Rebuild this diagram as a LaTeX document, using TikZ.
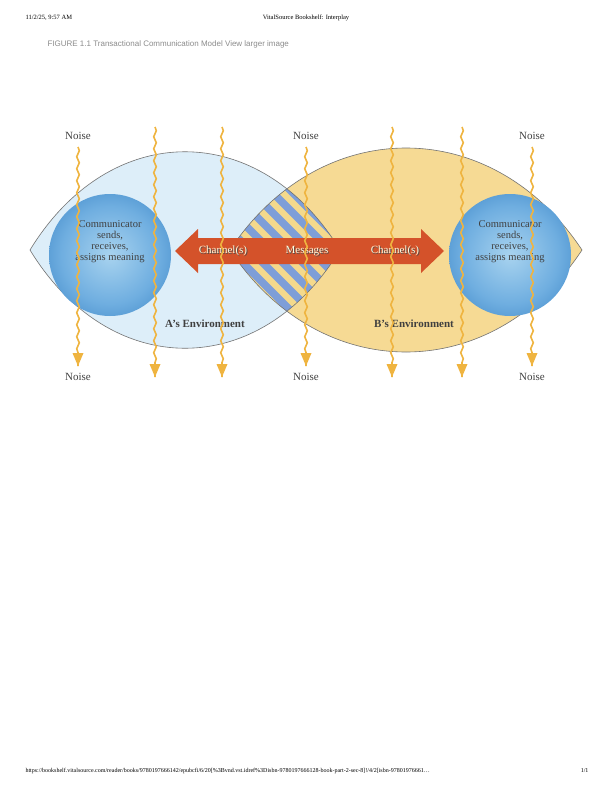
\documentclass[tikz,border=0pt]{standalone}
\usepackage{fontspec}
\setmainfont{Liberation Serif}
\newfontfamily\capfont{Liberation Sans}
\usetikzlibrary{decorations.pathmorphing,arrows.meta,shadings,calc}
\definecolor{lensA}{HTML}{DDEEF9}
\definecolor{lensB}{HTML}{F6DA94}
\definecolor{stripeB}{HTML}{7E9ED8}
\definecolor{stripeY}{HTML}{F4D98C}
\definecolor{noisecol}{HTML}{EFB440}
\definecolor{arrowred}{HTML}{D4522A}
\definecolor{ballc}{HTML}{A8D3EF}
\definecolor{ballm}{HTML}{6FAEE0}
\definecolor{balld}{HTML}{2F7BC0}
\definecolor{balle}{HTML}{6FA8DA}
\pgfdeclareradialshading{ballA}{\pgfpoint{0bp}{0bp}}{%
  color(0bp)=(ballc);
  color(20bp)=(ballm);
  color(39bp)=(balld);
  color(45bp)=(balle);
  color(50bp)=(lensA)}
\pgfdeclareradialshading{ballB}{\pgfpoint{0bp}{0bp}}{%
  color(0bp)=(ballc);
  color(20bp)=(ballm);
  color(39bp)=(balld);
  color(45bp)=(balle);
  color(50bp)=(lensB)}
\tikzset{
  noisearrow/.style={draw=noisecol,line width=1.6pt,decorate,decoration={snake,segment length=12pt,amplitude=1.3pt,post length=10pt}},
  noisetip/.style={fill=noisecol,draw=none},
  noiselbl/.style={font=\fontsize{11}{12}\selectfont,text=black!75},
  chan/.style={font=\fontsize{11}{12}\selectfont,text=white!88!yellow},
  chanshadow/.style={font=\fontsize{11}{12}\selectfont,text=black!70},
  env/.style={font=\fontsize{11}{12}\selectfont\bfseries,text=black!75},
  comm/.style={font=\fontsize{10.5}{11}\selectfont,text=black!75,align=center},
  stripe/.style={draw=stripeB,line width=7.6pt}
}
\begin{document}
\begin{tikzpicture}[x=1pt,y=-1pt]
\useasboundingbox (0,0) rectangle (612,792);
\fill[white] (0,0) rectangle (612,792);
% header
\node[font=\fontsize{6.5}{7}\selectfont,anchor=west] (hd1) at (22,18) {11/2/25, 9:57 AM};
\node[font=\fontsize{6.5}{7}\selectfont] (hd2) at (306,18) {VitalSource Bookshelf: Interplay};
\node[font=\capfont\fontsize{8}{9}\selectfont,text=black!45,anchor=west] (cap) at (44,44) {FIGURE 1.1 Transactional Communication Model View larger image};
\node[font=\fontsize{6}{7}\selectfont,anchor=west] (ft1) at (22,771) {https://bookshelf.vitalsource.com/reader/books/9780197666142/epubcfi/6/20[\%3Bvnd.vst.idref\%3Disbn-9780197666128-book-part-2-sec-8]!/4/2[isbn-97801976661\dots};
\node[font=\fontsize{6}{7}\selectfont,anchor=east] (ft2) at (592,771) {1/1};
% lenses
\def\lensA{(30,250) .. controls (110,119) and (260,119) .. (340,250) .. controls (260,381) and (110,381) .. (30,250) -- cycle}
\def\lensB{(230,250) .. controls (320,114) and (492,114) .. (582,250) .. controls (492,386) and (320,386) .. (230,250) -- cycle}
\fill[lensA] \lensA;
\fill[lensB] \lensB;
\begin{scope}
\clip \lensA;
\clip \lensB;
\fill[stripeY] (200,130) rectangle (360,370);
\foreach \xs in {-100,-80,...,400}{
  \draw[stripe] (\xs,100) -- (\xs+300,400);
}
\end{scope}
\draw[black!55,line width=0.6pt] \lensA;
\draw[black!55,line width=0.6pt] \lensB;
% balls
\shade[shading=ballA] (110,255) circle (61);
\shade[shading=ballB] (510,255) circle (61);
\node[comm] (ca) at (110,242) {Communicator\\sends,\\receives,\\assigns meaning};
\node[comm] (cb) at (510,242) {Communicator\\sends,\\receives,\\assigns meaning};
% channel arrow
\fill[arrowred] (175,251) -- (198,229) -- (198,238) -- (421,238) -- (421,229) -- (444,251) -- (421,273) -- (421,264) -- (198,264) -- (198,273) -- cycle;
\foreach \n/\x/\t in {ch1/223/Channel(s),msg/307/Messages,ch2/395/Channel(s)}{
  \node[chanshadow] at (\x+0.8,251.8) {\t};
  \node[chan] (\n) at (\x,251) {\t};
}
\node[env] (ea) at (205,324) {A's Environment};
\node[env] (eb) at (414,324) {B's Environment};
% noise
\foreach \x/\lab in {78/1,155/0,222/0,306/1,392/0,462/0,532/1}{
  \ifnum\lab=1
    \node[noiselbl] (nt\x) at (\x,136) {Noise};
    \node[noiselbl] (nb\x) at (\x,377) {Noise};
    \coordinate (s\x) at (\x,147);
    \coordinate (e\x) at (\x,366);
  \else
    \coordinate (s\x) at (\x,127);
    \coordinate (e\x) at (\x,377);
  \fi
  \draw[noisearrow] (s\x) -- (e\x);
  \fill[noisetip] ($(e\x)+(-5.5,-13)$) -- (e\x) -- ($(e\x)+(5.5,-13)$) -- cycle;
}
\end{tikzpicture}
\end{document}
